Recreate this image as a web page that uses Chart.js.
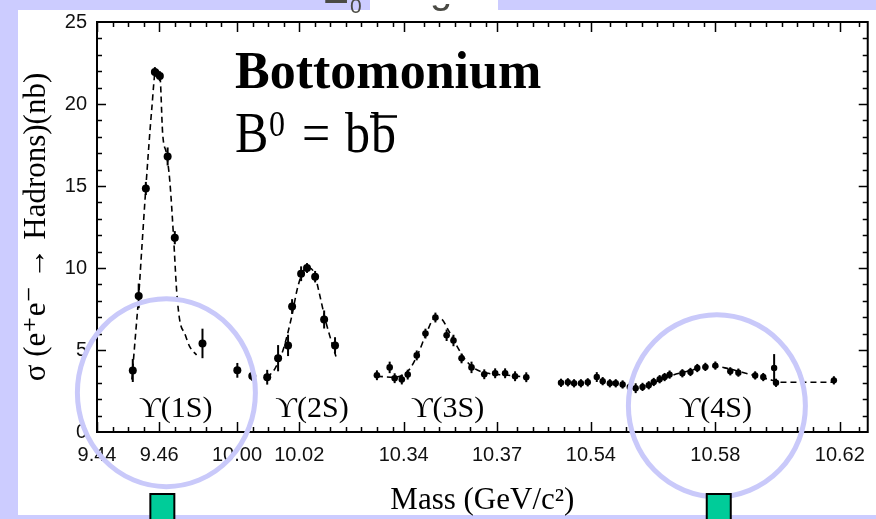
<!DOCTYPE html>
<html>
<head>
<meta charset="utf-8">
<script src="https://cdn.jsdelivr.net/npm/chart.js@4.4.0/dist/chart.umd.min.js"></script>
<style>
  html, body { margin: 0; padding: 0; background: #ccccff; }
  canvas { display: block; }
</style>
</head>
<body>
<canvas id="upsilonChart" width="876" height="519"></canvas>
<script>
// e+e- -> hadrons cross section (nb) scanned across the four Upsilon resonances
var mass1S = [9.4515, 9.4534, 9.4557, 9.4586, 9.4602, 9.4627, 9.4650, 9.4739];
var sigma1S = [3.75, 8.3, 14.85, 21.95, 21.7, 16.8, 11.85, 5.4];
var err1S = [0.7, 0.75, 0.4, 0.3, 0.3, 0.55, 0.4, 0.9];
var fitMass1S = [9.4512, 9.4525, 9.4534, 9.4544, 9.4557, 9.4576, 9.4589, 9.4602, 9.4611, 9.4624, 9.4634, 9.4646, 9.4656, 9.4666, 9.4682, 9.4698, 9.4720];
var fitSigma1S = [3.2, 6.2, 8.3, 11.2, 14.9, 19.7, 22.1, 21.8, 18.2, 16.9, 15.3, 11.9, 8.6, 6.8, 6.0, 5.2, 4.7];

var mass2S = [10.0001, 10.0049, 10.0097, 10.0132, 10.0164, 10.0177, 10.0206, 10.0225, 10.0251, 10.0280, 10.0315];
var sigma2S = [3.76, 3.42, 3.34, 4.5, 5.28, 7.65, 9.65, 10.0, 9.47, 6.86, 5.28];
var err2S = [0.45, 0.3, 0.45, 0.8, 0.65, 0.45, 0.45, 0.3, 0.35, 0.55, 0.5];
var fitMass2S = [10.0097, 10.0123, 10.0148, 10.0174, 10.0196, 10.0216, 10.0232, 10.0248, 10.0264, 10.0283, 10.0299, 10.0318];
var fitSigma2S = [3.3, 3.9, 5.0, 6.9, 8.9, 9.9, 10.0, 9.7, 8.5, 6.9, 5.8, 4.6];

var mass3S = [10.3314, 10.3355, 10.3371, 10.3394, 10.3413, 10.3442, 10.3470, 10.3502, 10.3538, 10.3560, 10.3586, 10.3618, 10.3659, 10.3694, 10.3726, 10.3758, 10.3794];
var sigma3S = [3.46, 3.94, 3.28, 3.2, 3.5, 4.67, 6.0, 6.98, 5.9, 5.58, 4.49, 3.94, 3.52, 3.58, 3.58, 3.4, 3.34];
var err3S = [0.3, 0.35, 0.3, 0.3, 0.3, 0.3, 0.3, 0.3, 0.35, 0.35, 0.3, 0.35, 0.3, 0.3, 0.3, 0.3, 0.3];
var fitMass3S = [10.3314, 10.3368, 10.3416, 10.3448, 10.3474, 10.3499, 10.3518, 10.3544, 10.3570, 10.3595, 10.3627, 10.3672, 10.3736, 10.3800];
var fitSigma3S = [3.4, 3.34, 3.76, 4.85, 6.07, 6.92, 6.92, 6.19, 5.28, 4.49, 3.88, 3.58, 3.46, 3.34];

var mass4S = [10.5304, 10.5326, 10.5346, 10.5368, 10.5390, 10.5419, 10.5438, 10.5461, 10.5480, 10.5502, 10.5525, 10.5544, 10.5566, 10.5586, 10.5602, 10.5621, 10.5637, 10.5653, 10.5694, 10.5720, 10.5742, 10.5768, 10.5800, 10.5848, 10.5874, 10.5928, 10.5954, 10.5989, 10.5995, 10.6181];
var sigma4S = [3.0, 3.03, 2.97, 2.97, 3.03, 3.35, 3.1, 2.97, 2.97, 2.9, 2.75, 2.67, 2.75, 2.85, 3.05, 3.22, 3.35, 3.5, 3.58, 3.66, 3.9, 3.97, 4.05, 3.7, 3.62, 3.45, 3.35, 3.9, 3.0, 3.15];
var err4S = [0.25, 0.25, 0.25, 0.25, 0.25, 0.3, 0.25, 0.25, 0.25, 0.25, 0.25, 0.3, 0.25, 0.25, 0.25, 0.25, 0.25, 0.25, 0.25, 0.25, 0.25, 0.25, 0.25, 0.25, 0.25, 0.25, 0.25, 0.85, 0.25, 0.25];
var fitMass4S = [10.5576, 10.5614, 10.5662, 10.5710, 10.5758, 10.5800, 10.5838, 10.5886, 10.5934, 10.5982, 10.6014, 10.6094, 10.6181];
var fitSigma4S = [2.79, 3.09, 3.46, 3.7, 3.94, 4.0, 3.88, 3.64, 3.4, 3.16, 3.03, 3.03, 3.03];

var tickMasses = [9.44, 9.46, 10.00, 10.02, 10.34, 10.37, 10.54, 10.58, 10.62];
var tickLabels = ['9.44', '9.46', '10.00', '10.02', '10.34', '10.37', '10.54', '10.58', '10.62'];

var stateNames = ['\u03D2(1S)', '\u03D2(2S)', '\u03D2(3S)', '\u03D2(4S)'];
var stateLabelMass = [9.4653, 10.0241, 10.3541, 10.5800];

// the mass axis is broken into four windows, one per resonance (axis unit = 1 MeV)
var axisSegments = [
  { from: 9.44, axis: 0 },
  { from: 10.00, axis: 45 },
  { from: 10.34, axis: 98.56 },
  { from: 10.54, axis: 158.72 }
];
var axisEnd = 247.7;

function massToAxis(m) {
  var seg = axisSegments[0];
  for (var i = 0; i < axisSegments.length; i++) {
    if (m > axisSegments[i].from - 0.1) seg = axisSegments[i];
  }
  return seg.axis + (m - seg.from) * 1000;
}

function points(ms, vs) {
  return ms.map(function (m, i) { return { x: massToAxis(m), y: vs[i] }; });
}

var serif = '"Liberation Serif", "Times New Roman", "DejaVu Serif", serif';
var sans = '"Liberation Sans", Arial, sans-serif';

function dataSet(ms, vs, errs, r) {
  return {
    data: points(ms, vs), errors: errs, showLine: false,
    pointRadius: r, pointBackgroundColor: '#000', pointBorderColor: '#000', pointBorderWidth: 0
  };
}
function fitSet(ms, vs) {
  return {
    data: points(ms, vs), showLine: true, pointRadius: 0,
    borderColor: '#000', borderWidth: 1.6, borderDash: [6, 4],
    cubicInterpolationMode: 'monotone', fill: false
  };
}

var slidePlugin = {
  id: 'slide',
  beforeDraw: function (chart) {
    var ctx = chart.ctx;
    ctx.save();
    ctx.fillStyle = '#ccccff';
    ctx.fillRect(0, 0, chart.width, chart.height);
    ctx.fillStyle = '#ffffff';
    ctx.fillRect(18, 10, chart.width - 18, 505);
    ctx.fillRect(370, 0, 128, 10);
    ctx.restore();

    // heading of the slide, mostly hidden above the panel
    ctx.save();
    ctx.fillStyle = '#4a4a44';
    ctx.beginPath();
    ctx.rect(300, 0, 50, 4);
    ctx.rect(346, 0, 20, 14);
    ctx.rect(425, 4, 30, 9);
    ctx.clip();
    ctx.font = '40px ' + sans;
    ctx.fillText('E', 322, 3);
    ctx.fillText('g', 430, 3);
    ctx.font = '21px ' + sans;
    ctx.fillText('0', 350, 13);
    ctx.restore();
  },
  afterDatasetsDraw: function (chart) {
    var ctx = chart.ctx, xs = chart.scales.x, ys = chart.scales.y, a = chart.chartArea;
    ctx.save();
    ctx.strokeStyle = '#000';
    ctx.lineWidth = 2;
    chart.data.datasets.forEach(function (ds) {
      if (!ds.errors) return;
      ds.data.forEach(function (p, i) {
        var px = xs.getPixelForValue(p.x);
        ctx.beginPath();
        ctx.moveTo(px, ys.getPixelForValue(p.y - ds.errors[i]));
        ctx.lineTo(px, ys.getPixelForValue(p.y + ds.errors[i]));
        ctx.stroke();
      });
    });

    ctx.strokeRect(a.left, a.top, a.right - a.left, a.bottom - a.top);

    // inward tick marks on all four sides
    ctx.lineWidth = 1.5;
    function tickX(v, len) {
      var px = Math.round(xs.getPixelForValue(v)) + 0.5;
      ctx.beginPath();
      ctx.moveTo(px, a.bottom); ctx.lineTo(px, a.bottom - len);
      ctx.moveTo(px, a.top); ctx.lineTo(px, a.top + len);
      ctx.stroke();
    }
    function tickY(v, len) {
      var py = Math.round(ys.getPixelForValue(v)) + 0.5;
      ctx.beginPath();
      ctx.moveTo(a.left, py); ctx.lineTo(a.left + len, py);
      ctx.moveTo(a.right, py); ctx.lineTo(a.right - len, py);
      ctx.stroke();
    }
    var majors = tickMasses.map(massToAxis);
    for (var u = 0; u <= axisEnd; u += 5) {
      var nearMajor = majors.some(function (m) { return Math.abs(m - u) < 2.6; });
      if (!nearMajor) tickX(u, 5);
    }
    majors.forEach(function (m) { tickX(m, 10); });
    for (var v = 1; v < 25; v++) tickY(v, v % 5 === 0 ? 9 : 5);
    ctx.restore();
  },
  afterDraw: function (chart) {
    var ctx = chart.ctx, xs = chart.scales.x, ys = chart.scales.y;
    ctx.save();
    ctx.fillStyle = '#000';
    ctx.textBaseline = 'alphabetic';

    ctx.font = 'bold 52px ' + serif;
    ctx.fillText('Bottomonium', 235, 88);

    // B^0 = b bbar
    ctx.save();
    ctx.translate(235, 152);
    ctx.scale(1, 1.12);
    ctx.font = '50px ' + serif;
    ctx.fillText('B', 0, 0);
    ctx.fillText('=', 67, 0);
    ctx.fillText('b', 110, 0);
    ctx.fillText('b', 136, 0);
    var bw = ctx.measureText('b').width;
    ctx.font = '32px ' + serif;
    ctx.fillText('0', 34, -14);
    ctx.restore();
    ctx.lineWidth = 2.5;
    ctx.strokeStyle = '#000';
    ctx.beginPath();
    ctx.moveTo(370, 116.5);
    ctx.lineTo(372 + bw, 116.5);
    ctx.stroke();

    ctx.font = '30px ' + serif;
    ctx.textAlign = 'center';
    stateNames.forEach(function (name, i) {
      ctx.fillText(name, xs.getPixelForValue(massToAxis(stateLabelMass[i])), ys.getPixelForValue(0.9));
    });

    // highlight rings around the 1S and 4S labels
    ctx.strokeStyle = '#c9c9fa';
    ctx.lineWidth = 5;
    [[9.4623, 2.4, 89, 94], [10.5805, 1.6, 88.5, 91]].forEach(function (c) {
      ctx.beginPath();
      ctx.ellipse(xs.getPixelForValue(massToAxis(c[0])), ys.getPixelForValue(c[1]), c[2], c[3], 0, 0, Math.PI * 2);
      ctx.stroke();
    });

    // slide markers below the axis
    ctx.fillStyle = '#00cc99';
    ctx.strokeStyle = '#000';
    ctx.lineWidth = 2;
    [9.4610, 10.5811].forEach(function (m) {
      var cx = xs.getPixelForValue(massToAxis(m));
      ctx.fillRect(cx - 12, 494, 24, 30);
      ctx.strokeRect(cx - 12, 494, 24, 30);
    });
    ctx.restore();
  }
};

var ctx = document.getElementById('upsilonChart').getContext('2d');
var upsilonChart = new Chart(ctx, {
  type: 'scatter',
  data: {
    datasets: [
      fitSet(fitMass1S, fitSigma1S),
      fitSet(fitMass2S, fitSigma2S),
      fitSet(fitMass3S, fitSigma3S),
      fitSet(fitMass4S, fitSigma4S),
      dataSet(mass1S, sigma1S, err1S, 4),
      dataSet(mass2S, sigma2S, err2S, 4),
      dataSet(mass3S, sigma3S, err3S, 3.3),
      dataSet(mass4S, sigma4S, err4S, 3.2)
    ]
  },
  options: {
    responsive: false,
    animation: false,
    devicePixelRatio: 1,
    layout: { padding: { top: 20, right: 5, left: 0, bottom: 0 } },
    plugins: { legend: { display: false }, tooltip: { enabled: false } },
    scales: {
      x: {
        type: 'linear',
        min: 0,
        max: axisEnd,
        grid: { display: false, drawTicks: false },
        border: { display: false },
        afterBuildTicks: function (scale) {
          scale.ticks = tickMasses.map(function (m) { return { value: massToAxis(m) }; });
        },
        afterFit: function (scale) { scale.height = 87; },
        ticks: {
          autoSkip: false,
          maxRotation: 0,
          padding: 11,
          color: '#111',
          font: { family: sans, size: 20 },
          callback: function (value, index) { return tickLabels[index]; }
        },
        title: {
          display: true,
          text: 'Mass (GeV/c\u00B2)',
          color: '#000',
          font: { family: serif, size: 31, lineHeight: 1 },
          padding: { top: 0, bottom: 3 }
        }
      },
      y: {
        min: 0,
        max: 25,
        grid: { display: false, drawTicks: false },
        border: { display: false },
        afterFit: function (scale) { scale.width = 97; },
        ticks: {
          stepSize: 5,
          padding: 10,
          color: '#111',
          font: { family: sans, size: 20 }
        },
        title: {
          display: true,
          text: '\u03C3 (e\u207Ae\u207B \u2192 Hadrons)(nb)',
          color: '#000',
          font: { family: serif, size: 31, lineHeight: 1 },
          padding: { top: 21, bottom: 0 }
        }
      }
    }
  },
  plugins: [slidePlugin]
});
</script>
</body>
</html>
